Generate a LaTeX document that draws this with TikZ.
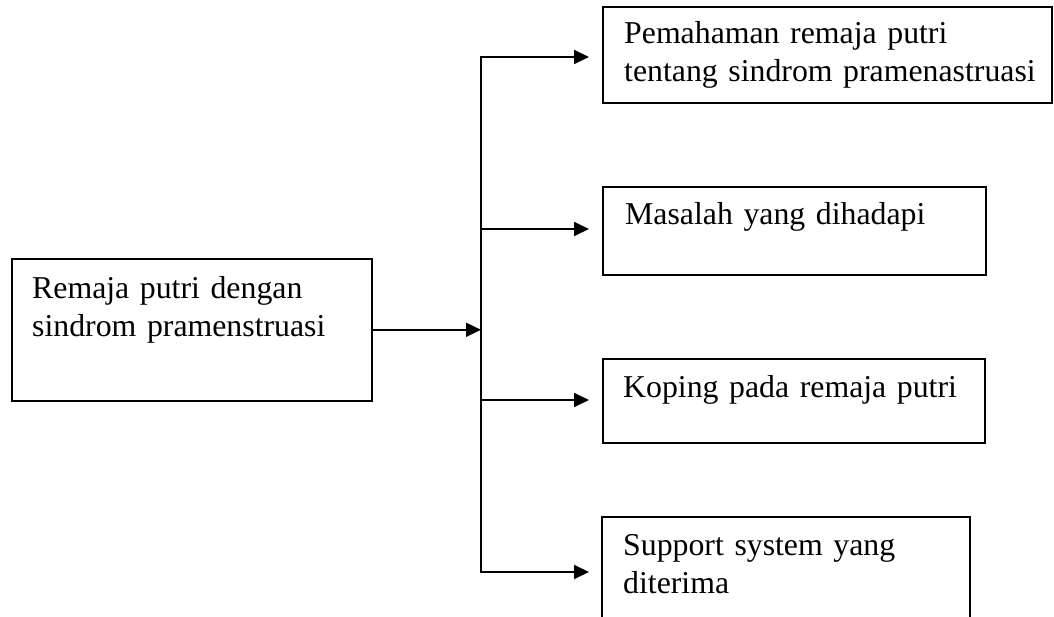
\documentclass[tikz,border=0pt]{standalone}
\usepackage{fontspec}
\setmainfont{Liberation Serif}
\usetikzlibrary{arrows.meta,calc}
\begin{document}
\begin{tikzpicture}[x=1pt,y=-1pt,
  boxnode/.style={draw, line width=1.6pt, inner sep=0pt, anchor=north west},
  txt/.style={inner sep=0pt, anchor=base west, align=left, text width=440pt,
    font=\fontsize{31.8}{38}\selectfont},
  conn/.style={line width=1.8pt},
  arr/.style={line width=1.8pt, -{Triangle[length=15pt,width=14pt]}}]
\useasboundingbox (0,0) rectangle (1054,617);
\clip (0,0) rectangle (1054,617);
\fill[white] (0,0) rectangle (1054,617);
% boxes
\node[boxnode, minimum width=360pt, minimum height=142pt] (b0) at (11,258) {};
\node[boxnode, minimum width=449pt, minimum height=96pt] (b1) at (602,6) {};
\node[boxnode, minimum width=383pt, minimum height=88pt] (b2) at (602,186) {};
\node[boxnode, minimum width=382pt, minimum height=84pt] (b3) at (602,358) {};
\node[boxnode, minimum width=368pt, minimum height=130pt] (b4) at (601,516) {};
% texts
\node[txt] (t0) at (32,299) {Remaja putri dengan\\sindrom pramenstruasi};
\node[txt] (t1) at (624,44) {Pemahaman remaja putri\\tentang sindrom pramenastruasi};
\node[txt] (t2) at (625,225) {Masalah yang dihadapi};
\node[txt] (t3) at (623,397) {Koping pada remaja putri};
\node[txt] (t4) at (623,555) {Support system yang\\diterima};
% junction coordinates
\coordinate (j) at (481,329);
\coordinate (v1) at (481,57);
\coordinate (v2) at (481,229);
\coordinate (v3) at (481,400);
\coordinate (v4) at (481,572);
% connectors
\draw[arr] (b0.east) -- (b0.east -| j);
\draw[conn, line cap=rect] (v1) -- (v4);
\draw[arr, shorten >=13pt] (v1) -- (v1 -| b1.west);
\draw[arr, shorten >=13pt] (v2) -- (v2 -| b2.west);
\draw[arr, shorten >=13pt] (v3) -- (v3 -| b3.west);
\draw[arr, shorten >=12pt] (v4) -- (v4 -| b4.west);
\end{tikzpicture}
\end{document}
